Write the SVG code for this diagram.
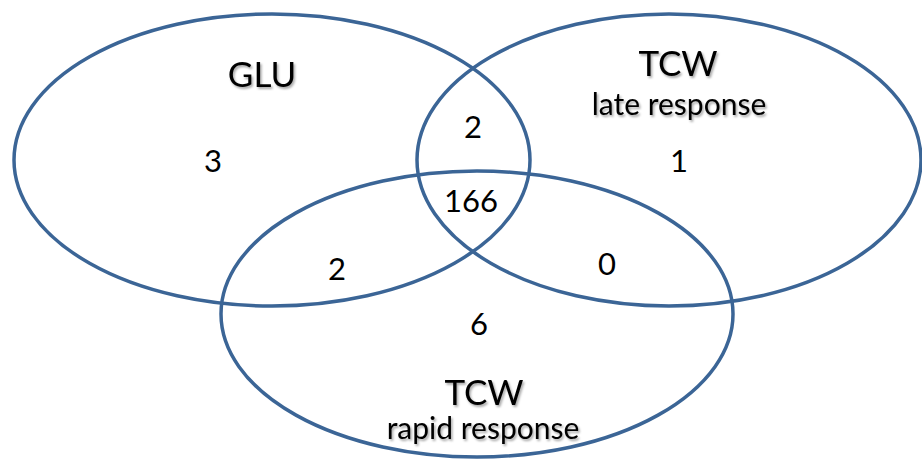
<svg xmlns="http://www.w3.org/2000/svg" width="922" height="461" viewBox="0 0 922 461">
<style>
.set{fill:none;stroke:#3b6596;stroke-width:3.5}
.lbl{font-family:Lato,"Liberation Sans",sans-serif;fill:#000;text-anchor:middle;filter:url(#sh)}
.big{font-size:35px}
.sub{font-size:30px}
.num{font-family:Lato,"Liberation Sans",sans-serif;font-size:31px;fill:#000;text-anchor:middle}
</style>
<defs>
<filter id="sh" x="-20%" y="-30%" width="140%" height="160%">
<feDropShadow dx="1.5" dy="2" stdDeviation="1.2" flood-color="#000" flood-opacity="0.35"/>
</filter>
</defs>
<rect width="922" height="461" fill="#fff"/>
<g id="glu">
<ellipse class="set" cx="272" cy="160" rx="258" ry="146"/>
<text class="lbl big" x="262" y="87">GLU</text>
<text class="num" x="213" y="172">3</text>
</g>
<g id="tcw-late">
<ellipse class="set" cx="669" cy="160" rx="252" ry="146"/>
<text class="lbl big" x="678" y="76">TCW</text>
<text class="lbl sub" x="679" y="115">late response</text>
<text class="num" x="679" y="172">1</text>
</g>
<g id="tcw-rapid">
<ellipse class="set" cx="477" cy="314" rx="256" ry="143"/>
<text class="lbl big" x="484" y="405">TCW</text>
<text class="lbl sub" x="483" y="439">rapid response</text>
<text class="num" x="479" y="335">6</text>
</g>
<g id="overlaps">
<text class="num" x="473" y="138">2</text>
<text class="num" x="471" y="212">166</text>
<text class="num" x="337" y="280">2</text>
<text class="num" x="607" y="275">0</text>
</g>
</svg>
